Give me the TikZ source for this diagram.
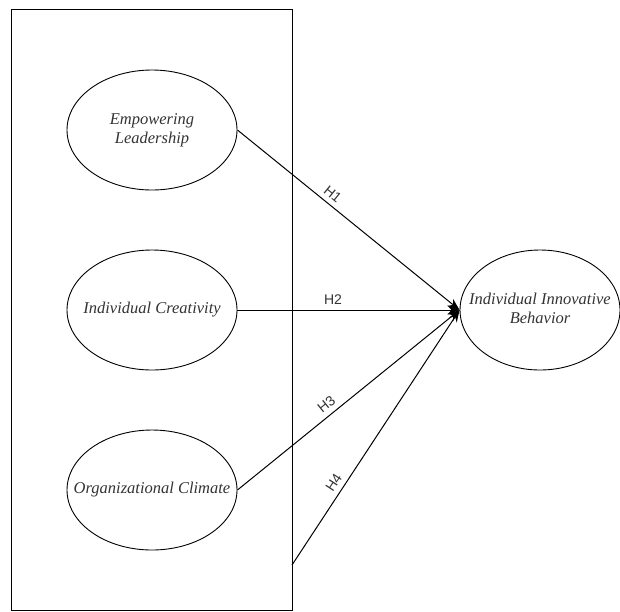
\documentclass[tikz,border=0pt]{standalone}
\usepackage{fontspec}
\setmainfont{Liberation Serif}
\setsansfont{Liberation Sans}
\usetikzlibrary{shapes.geometric,arrows.meta}
\definecolor{txt}{HTML}{333333}
\newcommand{\ztext}[1]{\makebox[0pt]{\begin{tabular}{@{}c@{}}#1\end{tabular}}}
\tikzset{
  construct/.style={draw=black,line width=0.9pt,ellipse,minimum width=170pt,minimum height=120pt,inner sep=0pt,font=\fontsize{16.5}{19}\selectfont\itshape,text=txt},
  path/.style={draw=black,line width=1pt,-{Stealth[length=12pt,width=9pt]}},
  hyp/.style={font=\sffamily\fontsize{14}{15}\selectfont,text=txt,sloped,above,inner sep=5pt}
}
\begin{document}
\begin{tikzpicture}[x=1pt,y=-1pt]
\useasboundingbox (0,0) rectangle (620,611);
\node[draw=black,line width=0.9pt,minimum width=281pt,minimum height=601pt,inner sep=0pt,anchor=north west] (box) at (11,9) {};
\node[construct] (el) at (152,130) {\ztext{Empowering\\Leadership}};
\node[construct] (ic) at (152,310) {\ztext{Individual Creativity}};
\node[construct] (oc) at (152,490) {\ztext{Organizational Climate}};
\node[construct,minimum width=160pt] (iib) at (540,310) {\ztext{Individual Innovative\\Behavior}};
\coordinate (tip) at (iib.west);
\coordinate (h4s) at (292,565);
\draw[path] (el.east) -- node[hyp,pos=0.40] {H1} (tip);
\draw[path] (ic.east) -- node[hyp,pos=0.43] {H2} (tip);
\draw[path] (oc.east) -- node[hyp,pos=0.43] {H3} (tip);
\draw[path] (h4s) -- node[hyp,pos=0.30] {H4} (tip);
\end{tikzpicture}
\end{document}
